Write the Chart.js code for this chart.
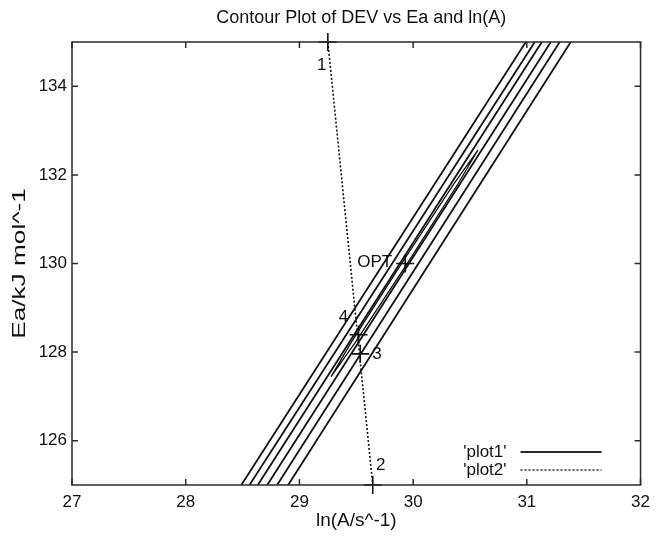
<!DOCTYPE html>
<html><head><meta charset="utf-8">
<script src="https://cdn.jsdelivr.net/npm/chart.js@4"></script>
<style>html,body{margin:0;padding:0;background:#fff}</style>
</head><body>
<canvas id="c" width="657" height="540"></canvas>
<script>
// ---- data ----
const xTicks = [27, 28, 29, 30, 31, 32];
const yTicks = [126, 128, 130, 132, 134];
const xRange = [27, 32];
const yRange = [125, 135];
// outer contour lines (straight segments): ln(A) at Ea = 125 and Ea = 135
const contourEaEnds = [125, 135];
const contourLnAAtBottom = [28.489, 28.561, 28.634, 28.717, 28.804, 28.901];
const contourLnAAtTop    = [30.991, 31.070, 31.132, 31.211, 31.289, 31.386];
// innermost closed contour
const innerLnA = [29.278, 29.490, 29.949, 30.394, 30.570, 30.358, 29.899, 29.454, 29.278];
const innerEa  = [127.445, 128.213, 130.004, 131.795, 132.562, 131.795, 130.004, 128.213, 127.445];
// marked points
const pointNames = ['1', '2', '3', '4', 'OPT'];
const pointLnA = [29.25, 29.645, 29.535, 29.52, 29.93];
const pointEa  = [135, 125, 127.96, 128.39, 130.0];
// plot2 dotted line (from point 1 to point 2)
const plot2LnA = [29.25, 29.645];
const plot2Ea  = [135, 125];
const seriesNames = ["'plot1'", "'plot2'"];
const titleText = 'Contour Plot of DEV vs Ea and ln(A)';
const xTitle = 'ln(A/s^-1)';
const yTitle = 'Ea/kJ mol^-1';

// ---- chart ----
const FONT = "'Liberation Sans', Arial, sans-serif";
const INK = '#111';
Chart.defaults.font.family = FONT;
Chart.defaults.font.size = 17;
Chart.defaults.color = INK;

const datasets = [];
contourLnAAtBottom.forEach((xb, i) => {
  datasets.push({
    label: i === 0 ? seriesNames[0] : '',
    data: [{x: xb, y: contourEaEnds[0]}, {x: contourLnAAtTop[i], y: contourEaEnds[1]}],
    showLine: true, borderColor: INK, borderWidth: 1.8, pointRadius: 0
  });
});
datasets.push({
  label: '',
  data: innerLnA.map((x, i) => ({x, y: innerEa[i]})),
  showLine: true, borderColor: INK, borderWidth: 1.3, pointRadius: 0
});
datasets.push({
  label: seriesNames[1],
  data: plot2LnA.map((x, i) => ({x, y: plot2Ea[i]})),
  showLine: true, borderColor: INK, borderWidth: 1.6, borderDash: [2, 2], pointRadius: 0
});
datasets.push({
  label: '',
  data: pointLnA.map((x, i) => ({x, y: pointEa[i]})),
  showLine: false, pointStyle: 'cross', pointRadius: 9, pointBorderWidth: 1.6,
  borderColor: INK, backgroundColor: INK, clip: false
});

const labelOffsets = {'1': [-6, 23, 'center'], '2': [8, -20, 'center'], '3': [12, 0, 'left'],
                      '4': [-15, -18, 'center'], 'OPT': [-13, -1, 'right']};

const gnuplotDecor = {
  id: 'gnuplotDecor',
  afterDraw(chart) {
    const {ctx, chartArea: a, scales: {x, y}} = chart;
    ctx.save();
    ctx.strokeStyle = '#2a2a2a';
    ctx.lineWidth = 1.5;
    ctx.strokeRect(a.left, a.top, a.right - a.left, a.bottom - a.top);
    const tl = 6;
    ctx.beginPath();
    xTicks.forEach(v => {
      const px = x.getPixelForValue(v);
      ctx.moveTo(px, a.bottom); ctx.lineTo(px, a.bottom - tl);
      ctx.moveTo(px, a.top); ctx.lineTo(px, a.top + tl);
    });
    yTicks.forEach(v => {
      const py = y.getPixelForValue(v);
      ctx.moveTo(a.left, py); ctx.lineTo(a.left + tl, py);
      ctx.moveTo(a.right, py); ctx.lineTo(a.right - tl, py);
    });
    ctx.stroke();
    ctx.fillStyle = INK;
    ctx.textBaseline = 'middle';
    // title
    ctx.font = '18px ' + FONT;
    ctx.textAlign = 'center';
    ctx.fillText(titleText, (a.left + a.right) / 2 + 5, 18);
    // axis titles
    ctx.font = '19px ' + FONT;
    ctx.fillText(xTitle, (a.left + a.right) / 2, 521);
    ctx.save();
    ctx.translate(20, (a.top + a.bottom) / 2);
    ctx.rotate(-Math.PI / 2);
    ctx.scale(1.38, 1);
    ctx.fillText(yTitle, 0, 0);
    ctx.restore();
    // point labels
    ctx.font = '17px ' + FONT;
    pointNames.forEach((name, i) => {
      const o = labelOffsets[name];
      ctx.textAlign = o[2];
      ctx.fillText(name, x.getPixelForValue(pointLnA[i]) + o[0], y.getPixelForValue(pointEa[i]) + o[1]);
    });
    // gnuplot-style key (text right, sample line after)
    const keyRight = a.right - 134, sx0 = a.right - 120, sx1 = a.right - 39;
    const rows = [a.bottom - 33, a.bottom - 15];
    [datasets[0], datasets[datasets.length - 2]].forEach((ds, i) => {
      ctx.textAlign = 'right';
      ctx.fillText(ds.label, keyRight, rows[i]);
      ctx.beginPath();
      ctx.setLineDash(ds.borderDash || []);
      ctx.lineWidth = ds.borderWidth;
      ctx.moveTo(sx0, rows[i]); ctx.lineTo(sx1, rows[i]);
      ctx.stroke();
    });
    ctx.restore();
  }
};

new Chart(document.getElementById('c'), {
  type: 'scatter',
  data: {datasets},
  options: {
    responsive: false,
    animation: false,
    events: [],
    layout: {padding: {left: 0, right: 15, top: 42, bottom: 0}},
    plugins: {
      legend: {display: false},
      tooltip: {enabled: false},
      title: {display: false}
    },
    scales: {
      x: {
        type: 'linear', min: xRange[0], max: xRange[1],
        afterBuildTicks: s => { s.ticks = xTicks.map(v => ({value: v})); },
        afterFit: s => { s.height = 55; },
        grid: {display: false, drawTicks: false},
        border: {display: false},
        ticks: {padding: 7, maxRotation: 0, autoSkip: false}
      },
      y: {
        type: 'linear', min: yRange[0], max: yRange[1],
        afterBuildTicks: s => { s.ticks = yTicks.map(v => ({value: v})); },
        afterFit: s => { s.width = 72; },
        grid: {display: false, drawTicks: false},
        border: {display: false},
        ticks: {padding: 5, autoSkip: false}
      }
    }
  },
  plugins: [gnuplotDecor]
});
</script>
</body></html>
